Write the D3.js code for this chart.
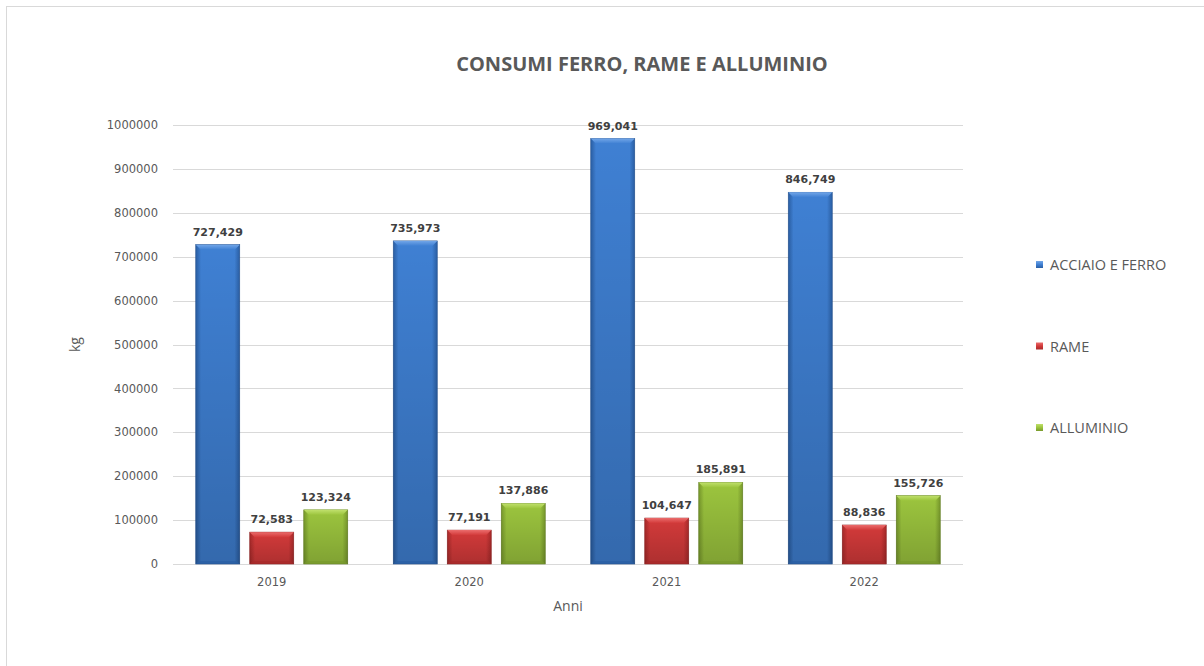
<!DOCTYPE html>
<html>
<head>
<meta charset="utf-8">
<script src="https://cdn.jsdelivr.net/npm/d3@7"></script>
<style>
  html, body { margin: 0; padding: 0; background: #fff; }
  svg { display: block; }
</style>
</head>
<body>
<svg id="chart" width="1204" height="666"></svg>
<script>
// Consumption data (kg) per year
const years = ["2019", "2020", "2021", "2022"];
const seriesNames = ["ACCIAIO E FERRO", "RAME", "ALLUMINIO"];
const acciaioFerro = [727429, 735973, 969041, 846749];
const rame = [72583, 77191, 104647, 88836];
const alluminio = [123324, 137886, 185891, 155726];
const yTicks = [0, 100000, 200000, 300000, 400000, 500000, 600000, 700000, 800000, 900000, 1000000];

const seriesValues = [acciaioFerro, rame, alluminio];
const palette = [
  { base: "#3f80d3", light: "#72a6e8", dark: "#2a5ea3", edge: "#234f8c" },
  { base: "#d33a3a", light: "#ea6c6c", dark: "#a82a2a", edge: "#8c2222" },
  { base: "#9cc53e", light: "#c0e06c", dark: "#78992c", edge: "#627f22" }
];

const svg = d3.select("#chart");
const W = 1204, H = 666;
const margin = { left: 173, right: 241, top: 125, bottom: 102 };
const plotW = W - margin.left - margin.right;
const plotH = H - margin.top - margin.bottom;

// outer chart frame
svg.append("rect")
  .attr("x", 6.5).attr("y", 6.5)
  .attr("width", W).attr("height", H)
  .attr("fill", "#fff").attr("stroke", "#d9d9d9").attr("stroke-width", 1);

// gradients for the beveled bars
const defs = svg.append("defs");
palette.forEach((c, i) => {
  const g = defs.append("linearGradient").attr("id", "body" + i)
    .attr("x1", "0").attr("x2", "1").attr("y1", "0").attr("y2", "0");
  g.append("stop").attr("offset", "0").attr("stop-color", c.dark);
  g.append("stop").attr("offset", "0.12").attr("stop-color", c.base);
  g.append("stop").attr("offset", "0.88").attr("stop-color", c.base);
  g.append("stop").attr("offset", "1").attr("stop-color", c.dark);
  const t = defs.append("linearGradient").attr("id", "top" + i)
    .attr("x1", "0").attr("x2", "0").attr("y1", "0").attr("y2", "1");
  t.append("stop").attr("offset", "0").attr("stop-color", c.light);
  t.append("stop").attr("offset", "1").attr("stop-color", c.base);
  const l = defs.append("linearGradient").attr("id", "legend" + i)
    .attr("x1", "0").attr("x2", "0").attr("y1", "0").attr("y2", "1");
  l.append("stop").attr("offset", "0").attr("stop-color", c.light);
  l.append("stop").attr("offset", "0.5").attr("stop-color", c.base);
  l.append("stop").attr("offset", "1").attr("stop-color", c.dark);
});
// vertical shading: bars darken toward the base
const shade = defs.append("linearGradient").attr("id", "shade")
  .attr("x1", "0").attr("x2", "0").attr("y1", "0").attr("y2", "1");
shade.append("stop").attr("offset", "0").attr("stop-color", "#000").attr("stop-opacity", 0);
shade.append("stop").attr("offset", "1").attr("stop-color", "#000").attr("stop-opacity", 0.18);

const x0 = d3.scaleBand().domain(years).range([0, plotW]).paddingInner(0).paddingOuter(0);
const barW = 44, barGap = 10;
const groupW = 3 * barW + 2 * barGap;
const x1 = d3.scaleBand().domain(d3.range(3))
  .range([(x0.bandwidth() - groupW) / 2, (x0.bandwidth() + groupW) / 2])
  .paddingInner(barGap / (barW + barGap)).paddingOuter(0);
const y = d3.scaleLinear().domain([0, 1000000]).range([plotH, 0]);

const g = svg.append("g").attr("transform", `translate(${margin.left},${margin.top})`);

// horizontal gridlines
g.append("g").selectAll("line").data(yTicks).join("line")
  .attr("x1", 0).attr("x2", plotW)
  .attr("y1", d => Math.round(y(d)) + 0.5).attr("y2", d => Math.round(y(d)) + 0.5)
  .attr("stroke", "#d9d9d9").attr("stroke-width", 1);

// y axis labels
const yAxis = g.append("g").call(d3.axisLeft(y).tickValues(yTicks).tickFormat(d3.format("d")).tickSize(0).tickPadding(15));
yAxis.select(".domain").remove();
yAxis.selectAll("text")
  .attr("font-family", "DejaVu Sans").attr("font-size", 11.5).attr("fill", "#595959");

// x axis labels
const xAxis = g.append("g").attr("transform", `translate(0,${plotH})`)
  .call(d3.axisBottom(x0).tickSize(0).tickPadding(14));
xAxis.select(".domain").remove();
xAxis.selectAll("text")
  .attr("font-family", "DejaVu Sans").attr("font-size", 11.5).attr("fill", "#595959");

// bars
const bevel = 5;
const groups = g.append("g").selectAll("g").data(years).join("g")
  .attr("transform", d => `translate(${x0(d)},0)`);

groups.each(function (yr, yi) {
  const grp = d3.select(this);
  seriesValues.forEach((vals, si) => {
    const v = vals[yi];
    const bx = x1(si), bw = x1.bandwidth();
    const by = y(v), bh = y(0) - y(v);
    grp.append("rect")
      .attr("x", bx).attr("y", by).attr("width", bw).attr("height", bh)
      .attr("fill", `url(#body${si})`)
      .attr("stroke", palette[si].edge).attr("stroke-width", 0.6);
    grp.append("rect")
      .attr("x", bx).attr("y", by).attr("width", bw).attr("height", bh)
      .attr("fill", "url(#shade)");
    // top bevel facet
    grp.append("path")
      .attr("d", `M${bx},${by} L${bx + bw},${by} L${bx + bw - bevel},${by + bevel} L${bx + bevel},${by + bevel} Z`)
      .attr("fill", `url(#top${si})`);
    // bottom bevel shade
    grp.append("path")
      .attr("d", `M${bx},${by + bh} L${bx + bw},${by + bh} L${bx + bw - 3},${by + bh - 3} L${bx + 3},${by + bh - 3} Z`)
      .attr("fill", palette[si].dark).attr("opacity", 0.7);
    // value label
    grp.append("text")
      .attr("x", bx + bw / 2).attr("y", by - 9)
      .attr("text-anchor", "middle")
      .attr("font-family", "DejaVu Sans").attr("font-weight", "bold")
      .attr("font-size", 11).attr("fill", "#404040")
      .text(d3.format(",")(v));
  });
});

// title
svg.append("text")
  .attr("x", 642).attr("y", 71)
  .attr("text-anchor", "middle")
  .attr("font-family", "Open Sans").attr("font-weight", "bold")
  .attr("font-size", 20).attr("fill", "#595959")
  .text("CONSUMI FERRO, RAME E ALLUMINIO");

// axis titles
svg.append("text")
  .attr("x", margin.left + plotW / 2).attr("y", 611)
  .attr("text-anchor", "middle")
  .attr("font-family", "Open Sans").attr("font-size", 14).attr("fill", "#595959")
  .text("Anni");

svg.append("text")
  .attr("transform", `translate(80,${margin.top + plotH / 2}) rotate(-90)`)
  .attr("text-anchor", "middle")
  .attr("font-family", "Open Sans").attr("font-size", 14).attr("fill", "#595959")
  .text("kg");

// legend
const legendY = d3.scalePoint().domain(seriesNames).range([265, 428]);
const legend = svg.append("g").selectAll("g").data(seriesNames).join("g")
  .attr("transform", d => `translate(1036,${legendY(d)})`);
legend.append("rect")
  .attr("x", 0).attr("y", -4).attr("width", 7).attr("height", 7)
  .attr("fill", (d, i) => `url(#legend${i})`);
legend.append("text")
  .attr("x", 14).attr("y", 0).attr("dy", "0.35em")
  .attr("font-family", "Open Sans").attr("font-size", 14.5).attr("fill", "#595959")
  .text(d => d);
</script>
</body>
</html>
